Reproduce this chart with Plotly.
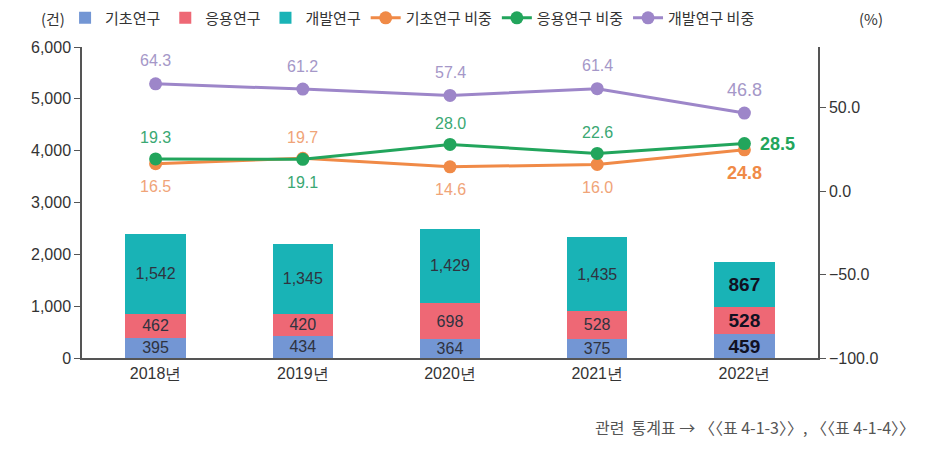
import plotly.graph_objects as go

years = ["2018년", "2019년", "2020년", "2021년", "2022년"]
basic = [395, 434, 364, 375, 459]
applied = [462, 420, 698, 528, 528]
develop = [1542, 1345, 1429, 1435, 867]
basic_pct = [16.5, 19.7, 14.6, 16.0, 24.8]
applied_pct = [19.3, 19.1, 28.0, 22.6, 28.5]
develop_pct = [64.3, 61.2, 57.4, 61.4, 46.8]

bar_names = ["기초연구", "응용연구", "개발연구"]
line_names = ["기초연구 비중", "응용연구 비중", "개발연구 비중"]

FONT = "Noto Sans CJK KR"
NUMF = "Liberation Sans"

bar_colors = ["#7396d4", "#ee6875", "#19b3b6"]
line_colors = ["#f08a47", "#22a55c", "#9d86c9"]
label_colors = ["#f0a478", "#3aa873", "#a597c8"]

fig = go.Figure()

def fmt(v):
    return f"{v:,}"

for name, vals, col in zip(bar_names, [basic, applied, develop], bar_colors):
    texts = [fmt(v) for v in vals]
    texts[-1] = f"<b>{texts[-1]}</b>"
    sizes = [16] * (len(vals) - 1) + [19]
    fcol = ["#2f3340"] * (len(vals) - 1) + ["#111122"]
    fig.add_trace(go.Bar(
        x=years, y=vals, name=name, marker_color=col, marker_line_width=0,
        width=0.41, text=texts, textposition="inside", insidetextanchor="middle",
        constraintext="none", textangle=0,
        textfont=dict(family=NUMF, size=sizes, color=fcol),
        yaxis="y",
    ))

for name, vals, col in zip(line_names, [basic_pct, applied_pct, develop_pct], line_colors):
    fig.add_trace(go.Scatter(
        x=years, y=vals, name=name, mode="lines+markers",
        line=dict(color=col, width=3), marker=dict(color=col, size=13),
        yaxis="y2",
    ))

pos = {
    0: ["below", "above", "below", "below", "below"],
    1: ["above", "below", "above", "above", "right"],
    2: ["above", "above", "above", "above", "above"],
}
anns = []
for i, vals in enumerate([basic_pct, applied_pct, develop_pct]):
    for j, (yr, v) in enumerate(zip(years, vals)):
        p = pos[i][j]
        last = j == len(vals) - 1 and i in (0, 1)
        txt = f"<b>{v:.1f}</b>" if last else f"{v:.1f}"
        col = line_colors[i] if last else label_colors[i]
        size = 18 if (last or (i == 2 and j == 4)) else 16
        kw = dict(x=yr, y=v, xref="x", yref="y2", text=txt, showarrow=False,
                  font=dict(family=NUMF, size=size, color=col))
        if p == "above":
            kw.update(yshift=21 if i != 2 else 23)
        elif p == "below":
            kw.update(yshift=-23)
        else:
            kw.update(xshift=14, xanchor="left")
        anns.append(kw)

anns += [
    dict(x=-0.04, y=1.093, xref="paper", yref="paper", text="(건)", showarrow=False,
         xanchor="center", yanchor="middle", font=dict(family=FONT, size=15, color="#333")),
    dict(x=1.072, y=1.093, xref="paper", yref="paper", text="(%)", showarrow=False,
         xanchor="center", yanchor="middle", font=dict(family=FONT, size=15, color="#333")),
    dict(x=1.134, y=-0.222, xref="paper", yref="paper",
         text="관련  통계표 → 〈〈표 4-1-3〉〉, 〈〈표 4-1-4〉〉", showarrow=False,
         xanchor="right", yanchor="middle", font=dict(family=FONT, size=16, color="#555")),
]

fig.update_layout(
    width=933, height=453,
    margin=dict(l=74, r=123, t=39, b=103, autoexpand=False),
    paper_bgcolor="white", plot_bgcolor="white",
    barmode="stack",
    annotations=anns,
    font=dict(family=FONT, size=15, color="#333"),
    showlegend=True,
    legend=dict(orientation="h", x=-0.023, xanchor="left", y=1.093, yanchor="middle",
                font=dict(family=FONT, size=15, color="#333"), itemwidth=30,
                traceorder="normal", bgcolor="rgba(0,0,0,0)"),
    xaxis=dict(showline=True, linecolor="#555", linewidth=1.5, ticks="",
               tickfont=dict(family=NUMF, size=16, color="#333"), showgrid=False),
    yaxis=dict(range=[0, 6000], tickvals=[0, 1000, 2000, 3000, 4000, 5000, 6000],
               tickformat=",", showline=True, linecolor="#555", linewidth=1.5,
               ticks="outside", ticklen=6, tickcolor="#555", showgrid=False, zeroline=False,
               tickfont=dict(family=NUMF, size=16, color="#333")),
    yaxis2=dict(range=[-100, 86.4], tickvals=[-100, -50, 0, 50], tickformat=".1f",
                overlaying="y", side="right", showline=True, linecolor="#555", linewidth=1.5,
                ticks="outside", ticklen=6, tickcolor="#555", showgrid=False, zeroline=False,
                tickfont=dict(family=NUMF, size=16, color="#333")),
)

fig.write_html("out.html")
